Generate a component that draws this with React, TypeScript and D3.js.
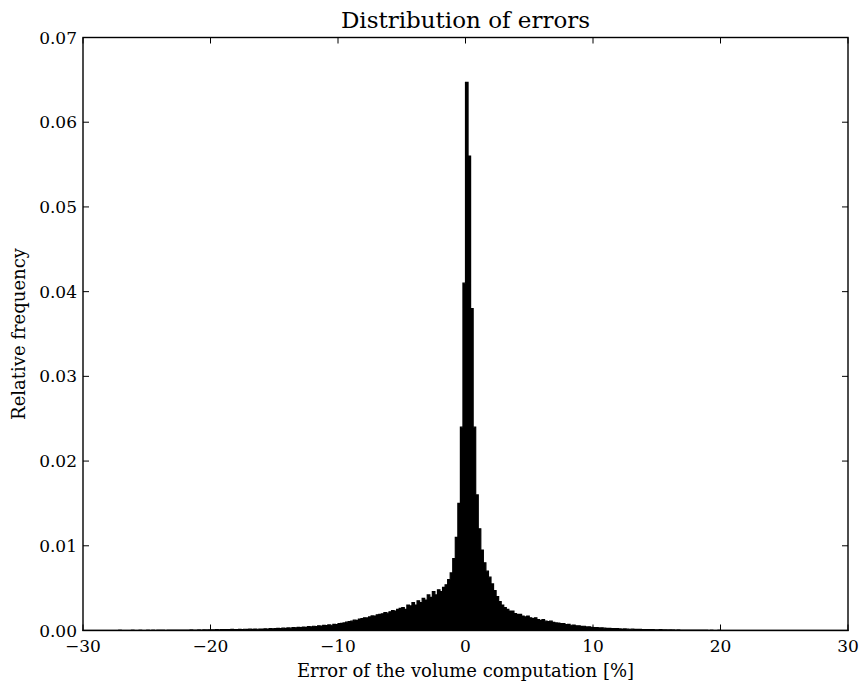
import React from "react";
import * as d3 from "d3";

// Histogram of errors, bin width 0.2 from -30 to 30
const binStart = -30;
const binWidth = 0.2;

// -30 .. -10
const tailLeft = [
  0.00002, 0.00001, 0.00002, 0.00003, 0.00001, 0.00002, 0.00002, 0.00003, 0.00002, 0.00001,
  0.00002, 0.00003, 0.00002, 0.00002, 0.00004, 0.00002, 0.00003, 0.00002, 0.00003, 0.00004,
  0.00003, 0.00002, 0.00004, 0.00003, 0.00003, 0.00004, 0.00003, 0.00005, 0.00003, 0.00004,
  0.00004, 0.00005, 0.00003, 0.00004, 0.00005, 0.00004, 0.00006, 0.00004, 0.00005, 0.00005,
  0.00006, 0.00005, 0.00007, 0.00005, 0.00006, 0.00007, 0.00006, 0.00008, 0.00007, 0.00008,
  0.00009, 0.00008, 0.0001, 0.00009, 0.00011, 0.0001, 0.00012, 0.0001, 0.00013, 0.00011,
  0.00012, 0.00014, 0.00012, 0.00015, 0.00013, 0.00016, 0.00014, 0.00017, 0.00015, 0.00018,
  0.00017, 0.0002, 0.00018, 0.00021, 0.0002, 0.00022, 0.00025, 0.00023, 0.00027, 0.00026,
  0.0003, 0.00028, 0.00033, 0.00031, 0.00036, 0.00034, 0.0004, 0.00038, 0.00045, 0.00042,
  0.0005, 0.00047, 0.00055, 0.00052, 0.0006, 0.00058, 0.00066, 0.00062, 0.00072, 0.0007,
];

// -10 .. -1
const shoulderLeft = [
  0.0008, 0.00085, 0.0009, 0.00098, 0.00105, 0.0011, 0.00122, 0.0012, 0.00135, 0.0014,
  0.0015, 0.00148, 0.0016, 0.00172, 0.0017, 0.00185, 0.0019, 0.00198, 0.0021, 0.00205,
  0.0022, 0.00235, 0.0023, 0.0025, 0.0026,
  0.0027, 0.0025, 0.003, 0.0029, 0.0033, 0.003, 0.0035, 0.0033, 0.0038, 0.0036,
  0.0042, 0.0039, 0.0046, 0.0042, 0.0048,
  0.0046, 0.0051, 0.0054, 0.006, 0.0068,
];

// -1 .. 3
const core = [
  0.0085, 0.011, 0.015, 0.024, 0.041, 0.0647, 0.056, 0.038, 0.024, 0.016,
  0.012, 0.0095, 0.008, 0.007, 0.0063, 0.0055, 0.0047, 0.004, 0.0034, 0.003,
];

// 3 .. 10
const shoulderRight = [
  0.0027, 0.0025, 0.0023, 0.0023, 0.002, 0.0019, 0.0019, 0.0017, 0.0016, 0.0017,
  0.0015, 0.0014, 0.0015, 0.0013, 0.0012, 0.0013, 0.0011, 0.00105, 0.0011, 0.00095,
  0.0009, 0.00088, 0.0008, 0.00082, 0.0007, 0.00072, 0.00062, 0.00064, 0.00055, 0.00056,
  0.00048, 0.0005, 0.00042, 0.00043, 0.00037,
];

// 10 .. 30
const tailRight = [
  0.00035, 0.00033, 0.0003, 0.00031, 0.00027, 0.00025, 0.00026, 0.00022, 0.00021, 0.00022,
  0.00019, 0.00018, 0.00019, 0.00016, 0.00015, 0.00016, 0.00014, 0.00013, 0.00014, 0.00012,
  0.00011, 0.00012, 0.0001, 0.0001, 0.00009, 0.00009, 0.0001, 0.00008, 0.00008, 0.00007,
  0.00008, 0.00007, 0.00006, 0.00007, 0.00006, 0.00005, 0.00006, 0.00005, 0.00005, 0.00004,
  0.00005, 0.00004, 0.00004, 0.00005, 0.00004, 0.00003, 0.00004, 0.00003, 0.00003, 0.00004,
  0.00003, 0.00003, 0.00002, 0.00003, 0.00003, 0.00002, 0.00003, 0.00002, 0.00002, 0.00003,
  0.00002, 0.00002, 0.00003, 0.00002, 0.00002, 0.00001, 0.00002, 0.00002, 0.00001, 0.00002,
  0.00002, 0.00001, 0.00002, 0.00001, 0.00001, 0.00002, 0.00001, 0.00001, 0.00002, 0.00001,
  0.00001, 0.00001, 0.00002, 0.00001, 0.00001, 0.00001, 0.00001, 0.00002, 0.00001, 0.00001,
  0.00001, 0.00001, 0.00001, 0.00001, 0.00002, 0.00001, 0.00001, 0.00001, 0.00001, 0.00001,
];

const xTicks = [-30, -20, -10, 0, 10, 20, 30];
const yTicks = [0, 0.01, 0.02, 0.03, 0.04, 0.05, 0.06, 0.07];

const title = "Distribution of errors";
const xLabel = "Error of the volume computation [%]";
const yLabel = "Relative frequency";

const W = 860;
const H = 683;
const left = 83;
const right = 848;
const top = 37.5;
const bottom = 630.5;
const FONT = "'DejaVu Serif', serif";

export default function App() {
  const values = [...tailLeft, ...shoulderLeft, ...core, ...shoulderRight, ...tailRight];
  const x = d3.scaleLinear().domain([-30, 30]).range([left, right]);
  const y = d3.scaleLinear().domain([0, 0.07]).range([bottom, top]);
  const tickLen = 6;
  const fmtY = d3.format(".2f");
  const fmtX = (v: number) => (v < 0 ? "\u2212" + Math.abs(v) : String(v));

  // step outline of the histogram
  const pts: [number, number][] = [];
  pts.push([binStart, 0]);
  values.forEach((v, i) => {
    const x0 = binStart + i * binWidth;
    pts.push([x0, v]);
    pts.push([x0 + binWidth, v]);
  });
  pts.push([binStart + values.length * binWidth, 0]);
  const line = d3
    .line<[number, number]>()
    .x((d) => x(d[0]))
    .y((d) => y(d[1]));
  const histPath = line(pts) + "Z";

  return (
    <svg
      width={W}
      height={H}
      style={{ position: "absolute", left: 0, top: 0, background: "#fff" }}
      fontFamily={FONT}
    >
      <rect x={0} y={0} width={W} height={H} fill="#fff" />
      <path d={histPath} fill="#000" stroke="#000" strokeWidth={1.2} strokeLinejoin="miter" />
      {xTicks.map((t) => (
        <g key={"x" + t}>
          <line x1={x(t)} x2={x(t)} y1={bottom} y2={bottom - tickLen} stroke="#000" strokeWidth={1} />
          <line x1={x(t)} x2={x(t)} y1={top} y2={top + tickLen} stroke="#000" strokeWidth={1} />
          <text x={x(t)} y={652} textAnchor="middle" fontSize={17} fill="#000">
            {fmtX(t)}
          </text>
        </g>
      ))}
      {yTicks.map((t) => (
        <g key={"y" + t}>
          <line x1={left} x2={left + tickLen} y1={y(t)} y2={y(t)} stroke="#000" strokeWidth={1} />
          <line x1={right} x2={right - tickLen} y1={y(t)} y2={y(t)} stroke="#000" strokeWidth={1} />
          <text x={77} y={y(t)} textAnchor="end" dominantBaseline="central" fontSize={17} fill="#000">
            {fmtY(t)}
          </text>
        </g>
      ))}
      <rect x={left} y={top} width={right - left} height={bottom - top} fill="none" stroke="#000" strokeWidth={1.4} />
      <text x={(left + right) / 2} y={28} textAnchor="middle" fontSize={23} fill="#000">
        {title}
      </text>
      <text x={(left + right) / 2} y={677} textAnchor="middle" fontSize={18} fill="#000">
        {xLabel}
      </text>
      <text
        transform={`translate(25, ${(top + bottom) / 2}) rotate(-90)`}
        textAnchor="middle"
        fontSize={18}
        fill="#000"
      >
        {yLabel}
      </text>
    </svg>
  );
}
